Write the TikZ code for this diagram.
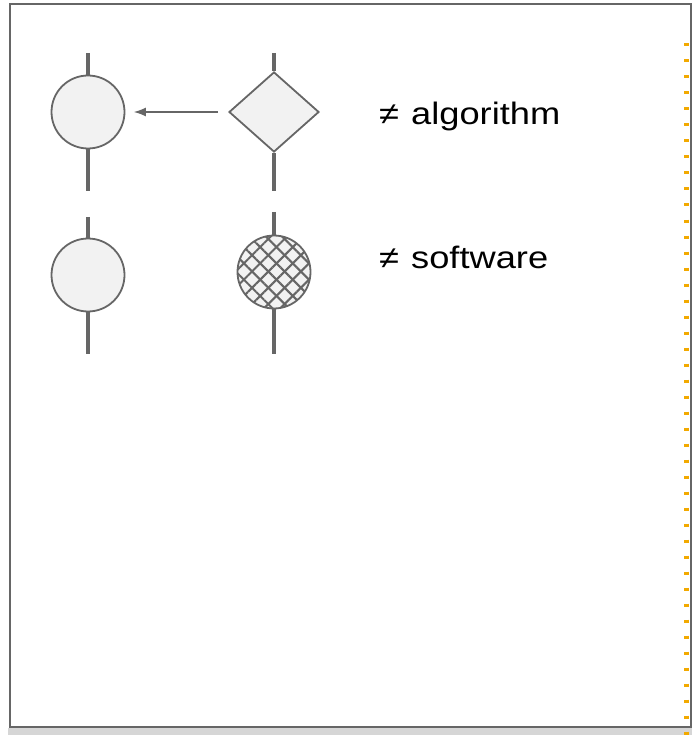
\documentclass[tikz,border=0pt]{standalone}
\usepackage{fontspec}
\setmainfont{Liberation Sans}
\newfontfamily\labelfont[FakeStretch=1.17]{Liberation Sans}
\usetikzlibrary{shapes.geometric,arrows.meta,patterns.meta}
\definecolor{edgegray}{HTML}{666666}
\definecolor{fillgray}{HTML}{F2F2F2}
\definecolor{bandgray}{HTML}{D6D6D6}
\definecolor{dotorange}{HTML}{F2A900}
\begin{document}
\begin{tikzpicture}[x=1pt,y=-1pt,
    ball/.style={circle,draw=edgegray,fill=fillgray,line width=1.8pt,minimum size=73pt,inner sep=0pt},
    rhomb/.style={diamond,draw=edgegray,fill=fillgray,line width=1.8pt,minimum width=90pt,minimum height=80pt,inner sep=0pt},
    hatched/.style={postaction={pattern={Lines[angle=45,distance=11.5pt,line width=2pt]},pattern color=edgegray},
                    postaction={pattern={Lines[angle=-45,distance=11.5pt,line width=2pt]},pattern color=edgegray}},
    wire/.style={draw=edgegray,line width=4pt},
    txt/.style={inner sep=0pt,anchor=base west,font=\labelfont\fontsize{31}{37}\selectfont}]
  \useasboundingbox (0,0) rectangle (698,735);
  % frame
  \fill[bandgray] (8,728) rectangle (692,735);
  \draw[edgegray,line width=2pt] (9.5,4) rectangle (690.5,726.5);
  \draw[dotorange,line width=5pt,dash pattern=on 3pt off 13pt] (686.5,43.5) -- (686.5,735);
  % nodes
  \draw
    (88,112) node[ball] (c1){}
    (274,112) node[rhomb] (d){}
    (88,275) node[ball] (c2){}
    (274,272) node[ball,hatched] (h){};
  \node[txt] (algo) at (379,125) {≠\hspace{2pt} algorithm};
  \node[txt] (soft) at (379,268) {≠\hspace{2pt} software};
  \coordinate (c1top) at (88,53);
  \coordinate (c1bot) at (88,191);
  \coordinate (dtop) at (274,53);
  \coordinate (dbot) at (274,191);
  \coordinate (c2top) at (88,217);
  \coordinate (c2bot) at (88,354);
  \coordinate (htop) at (274,212);
  \coordinate (hbot) at (274,354);
  \begin{scope}[wire]
    \draw (c1top) to (c1);
    \draw (c1) to (c1bot);
    \draw (dtop) to (d);
    \draw (d) to (dbot);
    \draw (c2top) to (c2);
    \draw (c2) to (c2bot);
    \draw (htop) to (h);
    \draw (h) to (hbot);
  \end{scope}
  \draw[-{Latex[length=12pt,width=9pt]},edgegray,line width=1.2pt,shorten <=10pt,shorten >=8.5pt] (d) -- (c1);
\end{tikzpicture}
\end{document}
